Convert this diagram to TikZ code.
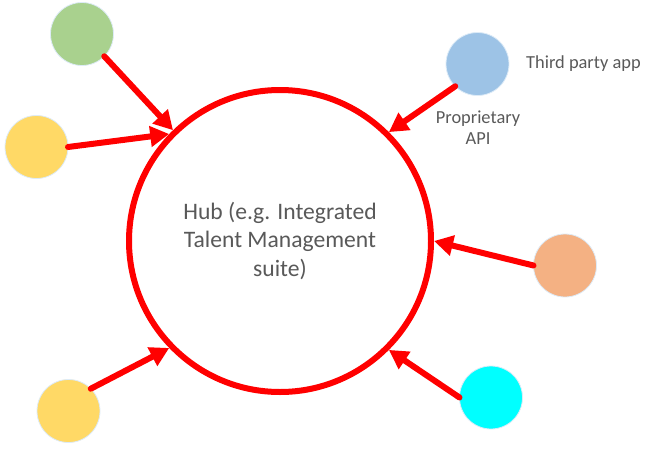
\documentclass[tikz,border=0pt]{standalone}
\usepackage{fontspec}
\setmainfont{Carlito}
\usetikzlibrary{arrows.meta}

\definecolor{linkred}{HTML}{FF0000}
\definecolor{labelgray}{HTML}{595959}
\definecolor{appgreen}{HTML}{A9D18E}
\definecolor{appyellow}{HTML}{FFD966}
\definecolor{appblue}{HTML}{9DC3E6}
\definecolor{apporange}{HTML}{F4B183}
\definecolor{appcyan}{HTML}{00FFFF}
\definecolor{appedge}{HTML}{DDEBF7}

\tikzset{
  hubnode/.style={circle, draw=linkred, line width=6pt, fill=white,
    minimum size=302pt, inner sep=0pt, align=center, text=labelgray,
    font=\fontsize{23.6}{28.5}\selectfont},
  appnode/.style={circle, fill=#1, draw=appedge, line width=0.8pt,
    minimum size=63pt, inner sep=0pt, outer sep=0pt},
  feed/.style={draw=linkred, line width=6pt, line cap=round,
    -{Triangle[length=19pt, width=20pt]}},
  note/.style={text=labelgray, font=\fontsize{18.4}{21}\selectfont, align=center}
}

\begin{document}
\begin{tikzpicture}[x=1pt, y=-1pt]
  \useasboundingbox (0,0) rectangle (651,450);

  % central system and the applications around it
  \node[hubnode] (hub) at (280,241) {Hub (e.g. Integrated\\Talent Management\\suite)};
  \node[appnode=appgreen]  (green)  at (82,34)    {};
  \node[appnode=appyellow] (yellowA) at (36.5,147) {};
  \node[appnode=appblue]   (blue)   at (477.5,64) {};
  \node[appnode=apporange] (orange) at (565,265.5) {};
  \node[appnode=appcyan]   (cyan)   at (491,397.5) {};
  \node[appnode=appyellow] (yellowB) at (68.5,411) {};

  % labels
  \node[note, anchor=west, inner sep=0pt] (third) at (526,64) {Third party app};
  \node[note] (api) at (478,128) {Proprietary\\API};

  % integrations feeding the hub
  \draw[feed] (green.-45)    -- (hub.134);
  \draw[feed] (yellowA.0)    -- (hub.136);
  \draw[feed] (blue.225)     -- (hub.45.5);
  \draw[feed] (orange.180)   -- (hub.-0.7);
  \draw[feed] (cyan.180)     -- (hub.-45.5);
  \draw[feed] (yellowB.45)   -- (hub.224);
\end{tikzpicture}
\end{document}
